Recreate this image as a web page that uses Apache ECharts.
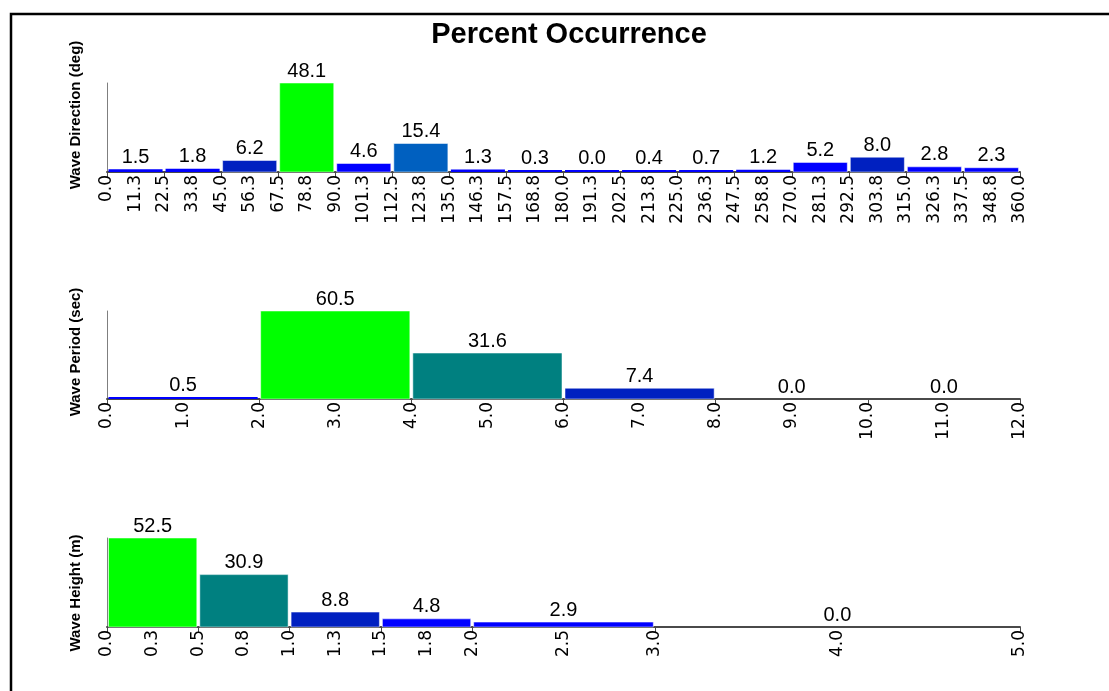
<!DOCTYPE html>
<html><head><meta charset="utf-8">
<script src="https://cdn.jsdelivr.net/npm/echarts@6/dist/echarts.min.js"></script>
<style>html,body{margin:0;padding:0;background:#fff}#c{width:1109px;height:691px}</style>
</head><body><div id="c"></div>
<script>
// ---- Wave Direction (deg) ----
const dirEdges = [0,22.5,45,67.5,90,112.5,135,157.5,180,202.5,225,247.5,270,292.5,315,337.5,360];
const dirValues = [1.5,1.8,6.2,48.1,4.6,15.4,1.3,0.3,0.04,0.4,0.7,1.2,5.2,8.0,2.8,2.3];
const dirLabelValues = [0,11.25,22.5,33.75,45,56.25,67.5,78.75,90,101.25,112.5,123.75,135,146.25,157.5,168.75,180,191.25,202.5,213.75,225,236.25,247.5,258.75,270,281.25,292.5,303.75,315,326.25,337.5,348.75,360];
const dirLabels = ['0.0','11.3','22.5','33.8','45.0','56.3','67.5','78.8','90.0','101.3','112.5','123.8','135.0','146.3','157.5','168.8','180.0','191.3','202.5','213.8','225.0','236.3','247.5','258.8','270.0','281.3','292.5','303.8','315.0','326.3','337.5','348.8','360.0'];

// ---- Wave Period (sec) ----
const perEdges = [0,2,4,6,8,10,12];
const perValues = [0.5,60.5,31.6,7.4,0.0,0.0];
const perLabelValues = [0,1,2,3,4,5,6,7,8,9,10,11,12];
const perLabels = ['0.0','1.0','2.0','3.0','4.0','5.0','6.0','7.0','8.0','9.0','10.0','11.0','12.0'];

// ---- Wave Height (m) ----
const hgtEdges = [0,0.5,1,1.5,2,3,5];
const hgtValues = [52.5,30.9,8.8,4.8,2.9,0.0];
const hgtLabelValues = [0,0.25,0.5,0.75,1,1.25,1.5,1.75,2,2.5,3,4,5];
const hgtLabels = ['0.0','0.3','0.5','0.8','1.0','1.3','1.5','1.8','2.0','2.5','3.0','4.0','5.0'];

const panels = [
  {name:'Wave Direction (deg)', edges:dirEdges, values:dirValues, lv:dirLabelValues, lt:dirLabels, top:83, height:89, nameY:115},
  {name:'Wave Period (sec)', edges:perEdges, values:perValues, lv:perLabelValues, lt:perLabels, top:311, height:88, nameY:352},
  {name:'Wave Height (m)', edges:hgtEdges, values:hgtValues, lv:hgtLabelValues, lt:hgtLabels, top:538, height:89, nameY:593}
];

function colorFor(v){
  if (v >= 40) return '#00ff00';
  if (v >= 25) return '#008080';
  if (v >= 12) return '#0060c0';
  if (v >= 6) return '#0020c0';
  return '#0000ff';
}

function renderBar(params, api){
  const x0 = api.value(0), x1 = api.value(1), v = api.value(2);
  const a = api.coord([x0, v]), b = api.coord([x1, 0]);
  let h = b[1] - a[1];
  if (v > 0 && h < 2) h = 2;
  const children = [];
  if (v > 0) {
    const style = {fill:colorFor(v)};
    if (h > 4) { style.stroke = 'rgba(255,255,255,0.5)'; style.lineWidth = 1; }
    children.push({type:'rect', shape:{x:a[0]+1.5, y:b[1]-h, width:b[0]-a[0]-3, height:h}, style});
  }
  children.push({type:'text', x:(a[0]+b[0])/2, y:b[1]-h-2,
    style:{text:v.toFixed(1), fill:'#000', font:'20px "Liberation Sans", Arial, sans-serif',
      textAlign:'center', textVerticalAlign:'bottom'}});
  return {type:'group', children};
}

const grid = [], xAxis = [], yAxis = [], series = [], graphic = [];
graphic.push({type:'rect', z:0, shape:{x:11, y:14, width:1300, height:900},
  style:{fill:'none', stroke:'#000', lineWidth:2.5}});

panels.forEach((p, i) => {
  grid.push({left:107, top:p.top, width:913, height:p.height, containLabel:false, outerBoundsMode:'none'});
  xAxis.push({gridIndex:i, type:'value', min:p.edges[0], max:p.edges[p.edges.length-1],
    axisLine:{show:true, onZero:false, lineStyle:{color:'#4a4a4a', width:2}},
    axisTick:{show:true, customValues:p.edges, length:5, lineStyle:{color:'#4a4a4a', width:1}},
    axisLabel:{show:true, customValues:p.lv, rotate:90, margin:3, color:'#000',
      fontFamily:'"DejaVu Sans", sans-serif', fontSize:17, hideOverlap:false,
      formatter:(val)=>{
        let best = 0, bd = Infinity;
        p.lv.forEach((x, k)=>{ const d = Math.abs(x - val); if (d < bd){bd = d; best = k;} });
        return p.lt[best];
      }},
    splitLine:{show:false}});
  yAxis.push({gridIndex:i, type:'value', min:0, max:Math.max(...p.values),
    axisLine:{show:true, lineStyle:{color:'#7f7f7f', width:1}},
    axisTick:{show:false}, axisLabel:{show:false}, splitLine:{show:false}});
  series.push({type:'custom', xAxisIndex:i, yAxisIndex:i, clip:false,
    data:p.values.map((v, k)=>[p.edges[k], p.edges[k+1], v]),
    encode:{x:[0,1], y:2}, renderItem:renderBar});
  graphic.push({type:'text', x:76, y:p.nameY, rotation:Math.PI/2,
    style:{text:p.name, font:'bold 15px "Liberation Sans", Arial, sans-serif', fill:'#000',
      textAlign:'center', textVerticalAlign:'middle'}});
});

const chart = echarts.init(document.getElementById('c'), null, {renderer:'canvas'});
chart.setOption({
  backgroundColor:'#ffffff',
  animation:false,
  title:{text:'Percent Occurrence', left:564, top:15, textAlign:'center',
    textStyle:{fontSize:29, fontWeight:'bold', fontFamily:'"Liberation Sans", Arial, sans-serif', color:'#000'}},
  grid, xAxis, yAxis, series, graphic
});
</script></body></html>
